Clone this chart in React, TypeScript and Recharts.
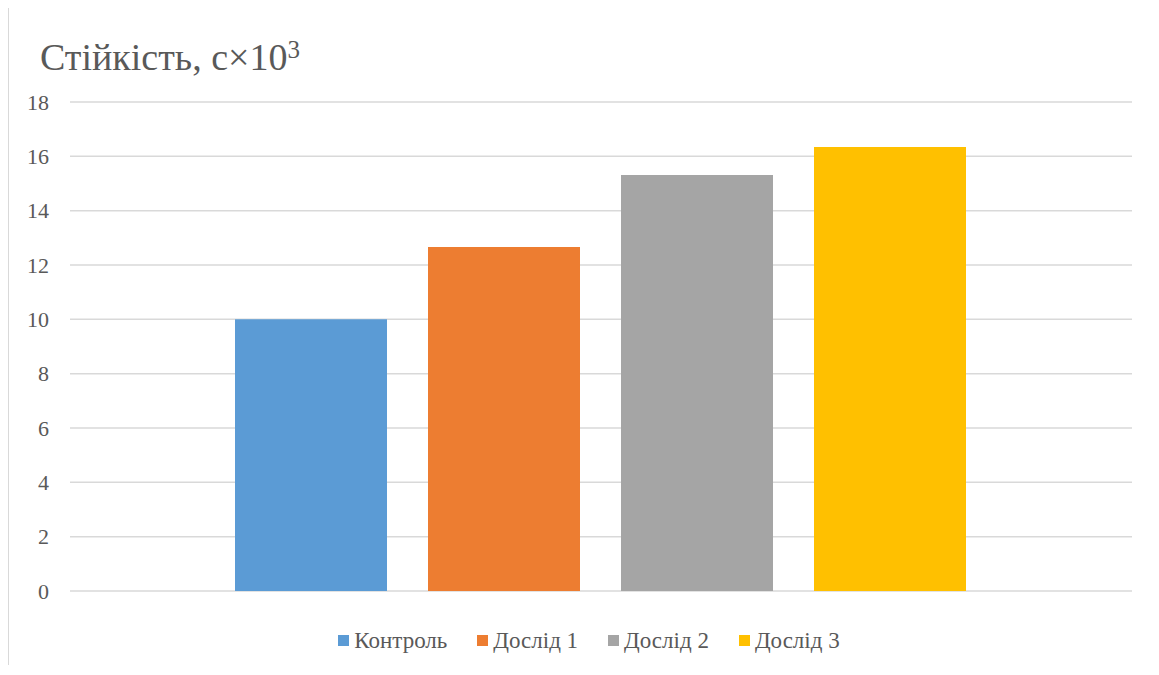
import React from 'react';
import { BarChart, Bar, XAxis, YAxis, CartesianGrid } from 'recharts';

const categories = ['Стійкість'];
const seriesNames = ['Контроль', 'Дослід 1', 'Дослід 2', 'Дослід 3'];
const seriesValues = [10.0, 12.66, 15.31, 16.34];
const yTicks = [0, 2, 4, 6, 8, 10, 12, 14, 16, 18];
const seriesColors = ['#5B9BD5', '#ED7D31', '#A5A5A5', '#FFC000'];

const data = categories.map((c) => {
  const row: Record<string, string | number> = { name: c };
  seriesNames.forEach((s, i) => {
    row[s] = seriesValues[i];
  });
  return row;
});

const FONT = "'Liberation Serif', 'Times New Roman', serif";
const TEXT = '#595959';

export default function App() {
  return (
    <div
      style={{
        position: 'relative',
        marginTop: -3,
        width: 1151,
        height: 660,
        boxSizing: 'border-box',
        borderTop: '1px solid #d9d9d9',
        borderLeft: '1px solid #d9d9d9',
        overflow: 'hidden',
        background: '#fff',
        fontFamily: FONT,
      }}
    >
      <div
        style={{
          position: 'absolute',
          left: 31,
          top: 32,
          fontSize: 38,
          lineHeight: 1,
          color: TEXT,
          whiteSpace: 'nowrap',
          fontFamily: FONT,
        }}
      >
        Стійкість, с×10
        <span style={{ fontSize: 25, verticalAlign: 'top', position: 'relative', top: -1 }}>3</span>
      </div>
      <div style={{ position: 'absolute', left: 0, top: 0 }}>
        <BarChart
          width={1150}
          height={654}
          data={data}
          margin={{ top: 96, right: 27, bottom: 69, left: 0 }}
          barCategoryGap={165}
          barGap={41}
        >
          <CartesianGrid vertical={false} stroke="#d9d9d9" strokeWidth={1.5} />
          <XAxis dataKey="name" hide />
          <YAxis
            width={61}
            domain={[0, 18]}
            ticks={yTicks}
            interval={0}
            axisLine={false}
            tickLine={false}
            tickSize={0}
            tickMargin={21}
            tick={{ fill: TEXT, fontSize: 22, fontFamily: FONT }}
          />
          {seriesNames.map((s, i) => (
            <Bar key={s} dataKey={s} fill={seriesColors[i]} isAnimationActive={false} />
          ))}
        </BarChart>
      </div>
      <div
        style={{
          position: 'absolute',
          left: 5,
          width: 1150,
          top: 623,
          display: 'flex',
          justifyContent: 'center',
          alignItems: 'center',
          fontSize: 23,
          color: TEXT,
          lineHeight: 1,
          fontFamily: FONT,
        }}
      >
        {seriesNames.map((s, i) => (
          <div key={s} style={{ display: 'flex', alignItems: 'center', margin: '0 15px' }}>
            <span
              style={{
                display: 'inline-block',
                width: 11,
                height: 11,
                background: seriesColors[i],
                marginRight: 5,
              }}
            />
            <span>{s}</span>
          </div>
        ))}
      </div>
    </div>
  );
}
